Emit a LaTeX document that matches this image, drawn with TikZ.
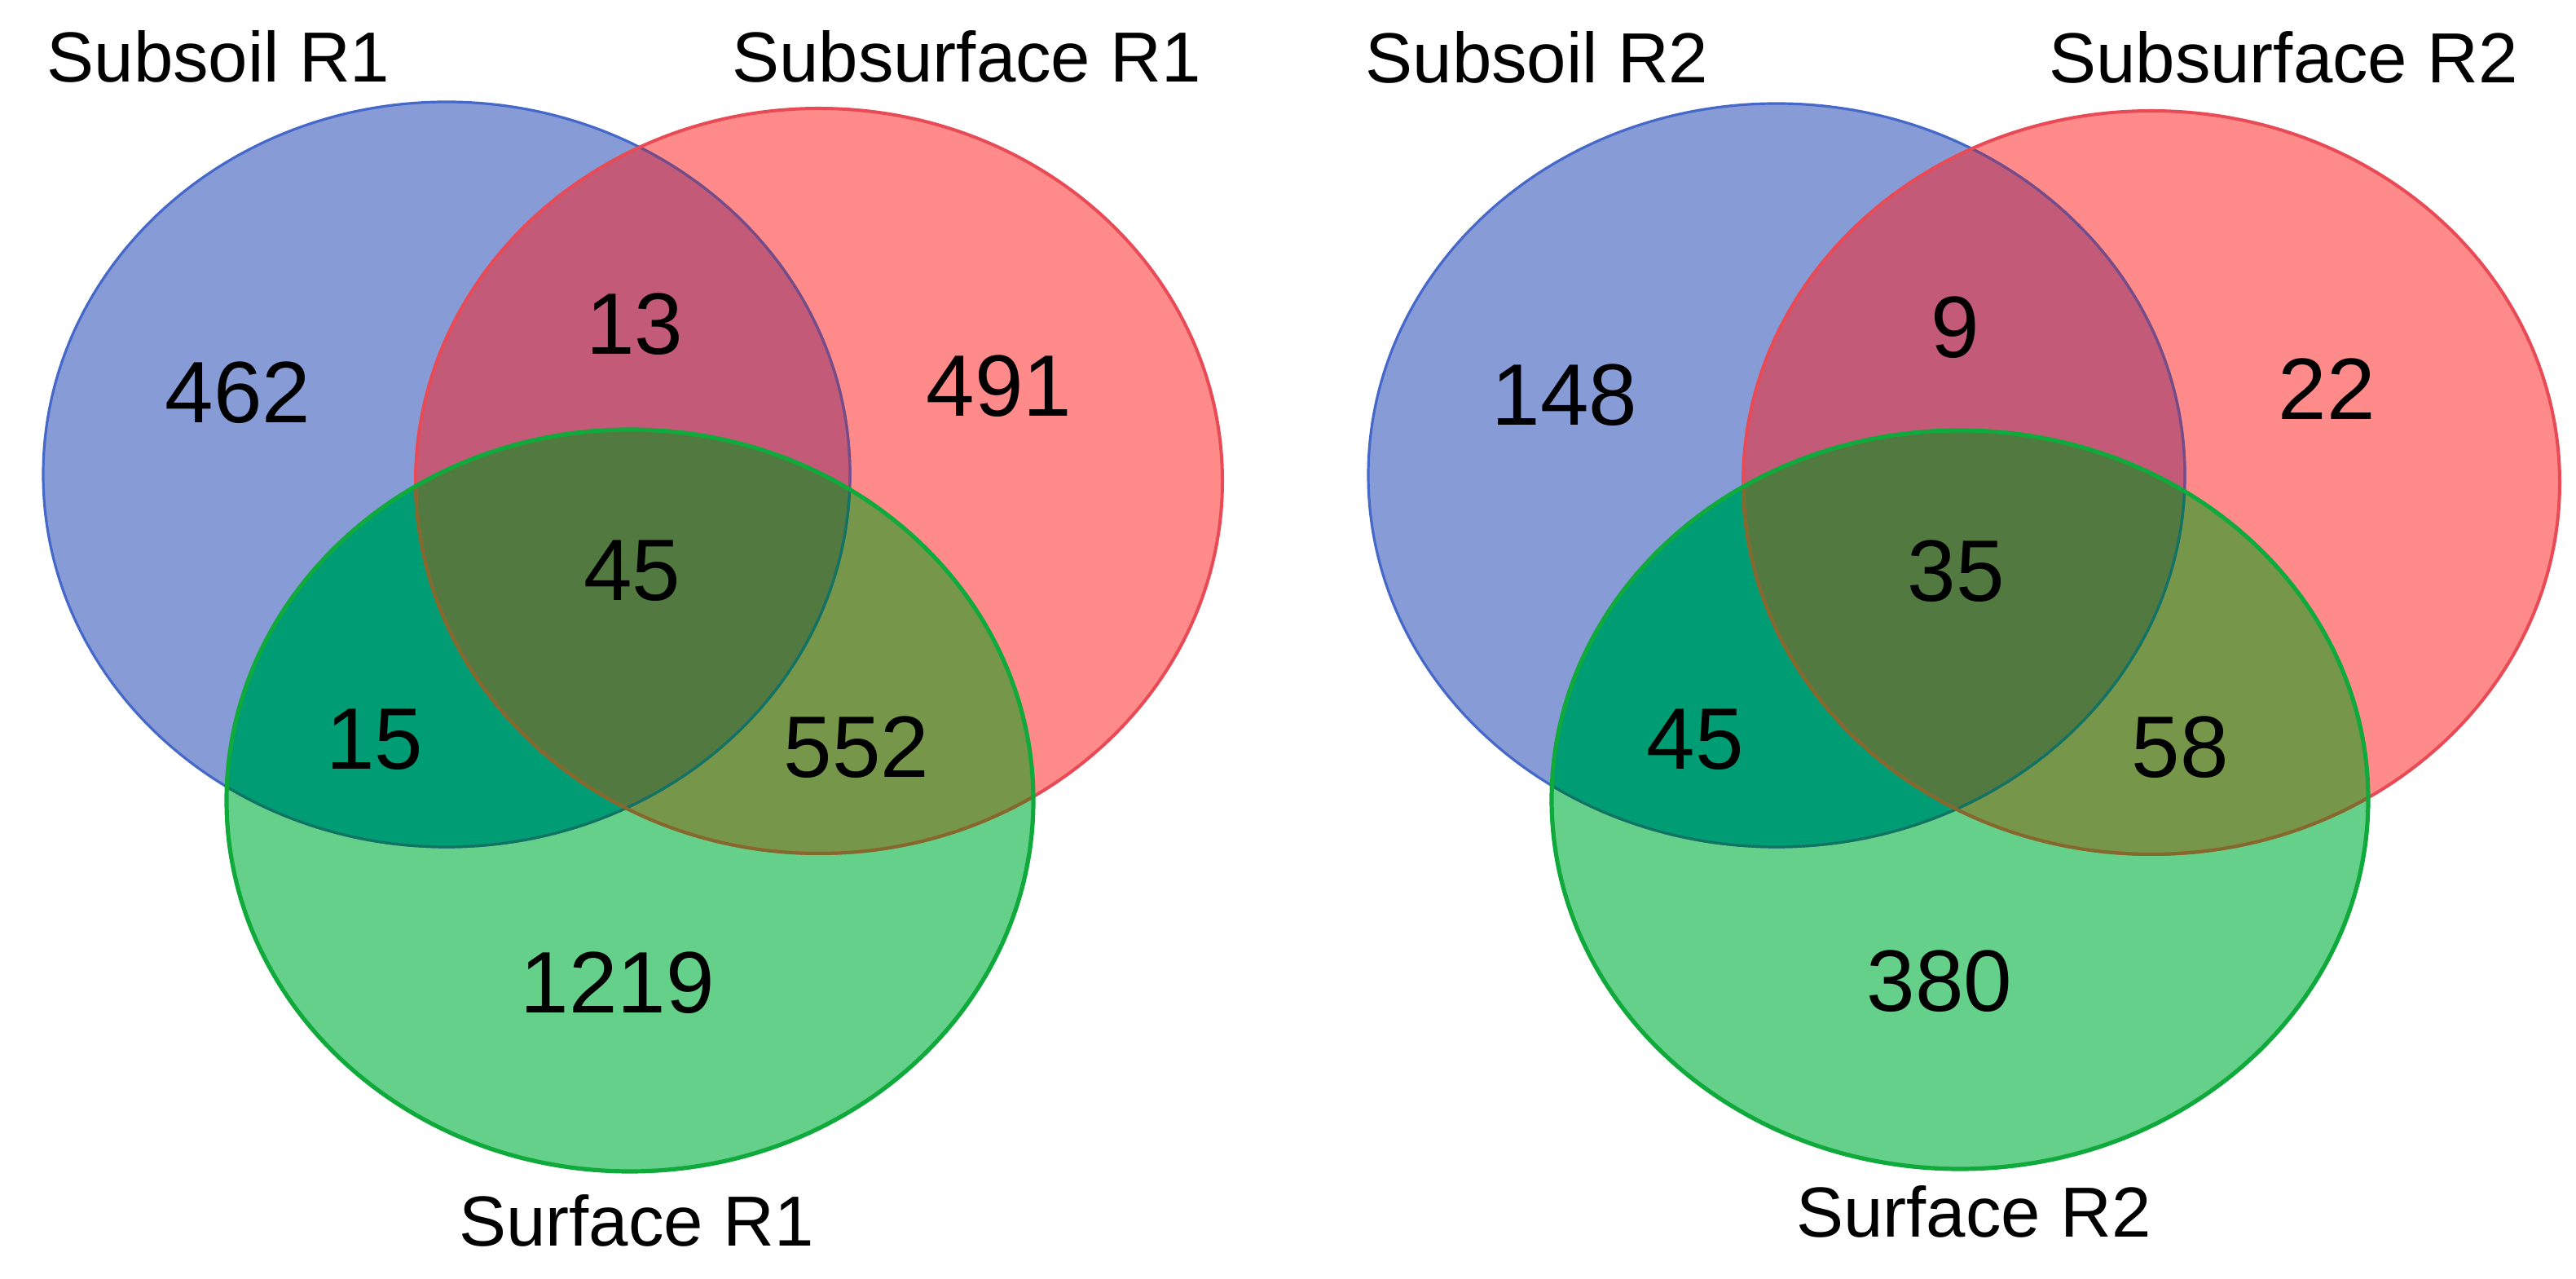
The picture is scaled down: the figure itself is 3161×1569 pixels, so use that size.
\documentclass[tikz,border=0pt]{standalone}
\usepackage{fontspec}
\setmainfont{Liberation Sans}
\begin{document}
\begin{tikzpicture}[x=0.25pt,y=-0.25pt,
  num/.style={inner sep=0pt,anchor=center,font=\fontsize{26.75}{30}\selectfont},
  lbl/.style={inner sep=0pt,anchor=base,font=\fontsize{21.75}{26}\selectfont}]
\definecolor{cB}{RGB}{135,156,214}
\definecolor{cR}{RGB}{255,138,138}
\definecolor{cBR}{RGB}{195,91,120}
\definecolor{cG}{RGB}{100,208,138}
\definecolor{cGB}{RGB}{0,156,116}
\definecolor{cGR}{RGB}{118,151,74}
\definecolor{cGBR}{RGB}{82,122,64}
\definecolor{oB}{RGB}{70,104,200}
\definecolor{oBR}{RGB}{122,74,132}
\definecolor{oR}{RGB}{232,74,86}
\definecolor{oBG}{RGB}{14,118,92}
\definecolor{oRG}{RGB}{130,106,44}
\definecolor{oG}{RGB}{16,170,60}
\useasboundingbox[fill=white] (0,0) rectangle (3161,1569);
\newcommand\drawvenn[3]{%
  \fill[cB] #1; \fill[cR] #2;
  \begin{scope}\clip #1; \fill[cBR] #2; \end{scope}
  \fill[cG] #3;
  \begin{scope}\clip #3; \fill[cGB] #1; \fill[cGR] #2; \clip #1; \fill[cGBR] #2; \end{scope}
  \draw[oB,line width=0.8pt] #1;
  \begin{scope}\clip #2; \draw[oBR,line width=0.8pt] #1; \end{scope}
  \draw[oR,line width=1pt] #2;
  \begin{scope}\clip #3; \draw[oBG,line width=0.8pt] #1; \draw[oRG,line width=1pt] #2; \end{scope}
  \draw[oG,line width=1.3pt] #3;
}
\def\BL{(548,582) ellipse [x radius=123.75pt, y radius=114.25pt]}
\def\RL{(1005,590) ellipse [x radius=123.75pt, y radius=114.25pt]}
\def\GL{(773,982) ellipse [x radius=123.75pt, y radius=113.75pt]}
\def\BR{(2180,583) ellipse [x radius=125.25pt, y radius=114pt]}
\def\RR{(2640,592) ellipse [x radius=125.25pt, y radius=114pt]}
\def\GR{(2405,981) ellipse [x radius=125.25pt, y radius=113.25pt]}
\drawvenn{\BL}{\RL}{\GL}
\drawvenn{\BR}{\RR}{\GR}
% left numbers
\node[num] (l462) at (292,482) {462};
\node[num] (l13) at (779,398) {13};
\node[num] (l491) at (1226,474) {491};
\node[num] (l45) at (776,700) {45};
\node[num] (l15) at (460,907) {15};
\node[num] (l552) at (1051,917) {552};
\node[num] (l1219) at (758,1206) {1219};
% right numbers
\node[num] (r148) at (1920,485) {148};
\node[num] (r9) at (2399,402) {9};
\node[num] (r22) at (2855,477) {22};
\node[num] (r35) at (2400,701) {35};
\node[num] (r45) at (2080,907) {45};
\node[num] (r58) at (2675,917) {58};
\node[num] (r380) at (2380,1204) {380};
% labels
\node[lbl] (lsub) at (268,101) {Subsoil R1};
\node[lbl] (lsubs) at (1186,101) {Subsurface R1};
\node[lbl] (lsurf) at (781,1529) {Surface R1};
\node[lbl] (rsub) at (1886,102) {Subsoil R2};
\node[lbl] (rsubs) at (2802,102) {Subsurface R2};
\node[lbl] (rsurf) at (2422,1518) {Surface R2};
\end{tikzpicture}
\end{document}
